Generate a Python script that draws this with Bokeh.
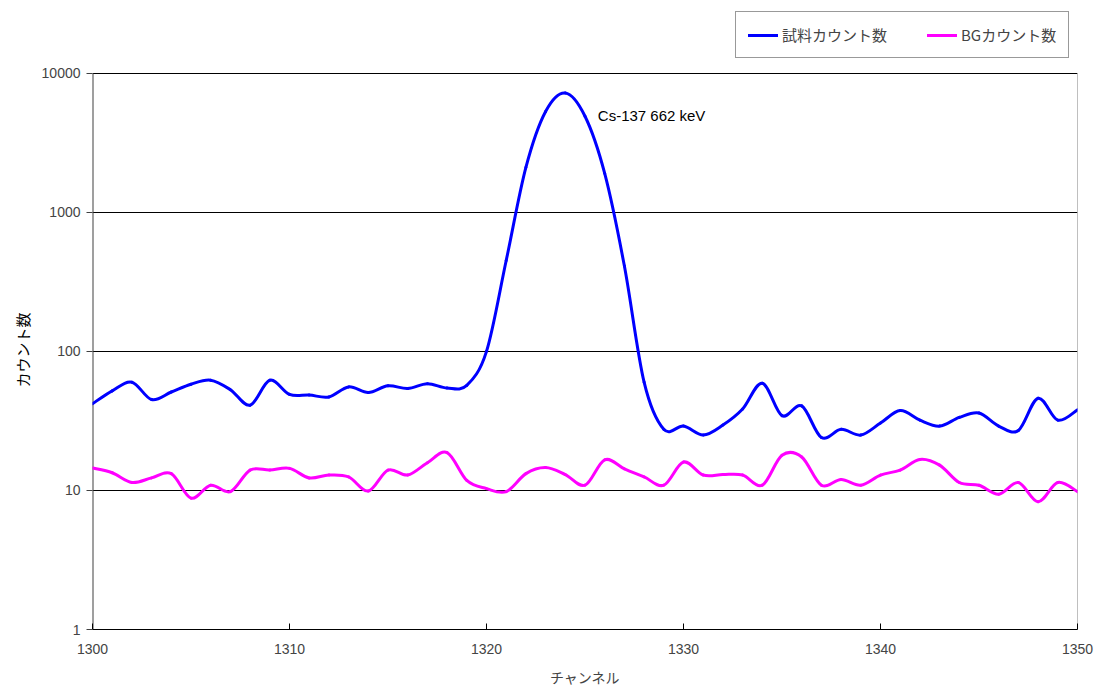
import numpy as np
from bokeh.plotting import figure
from bokeh.models import (FixedTicker, CustomJSTickFormatter, Legend, LegendItem, Label, Title)
from bokeh.embed import file_html
from bokeh.resources import INLINE

channels = list(range(1300, 1351))
sample_counts = [42, 52, 60, 45, 51, 58, 62, 53, 41, 62,
                 49, 48.5, 47, 55.5, 50.5, 56.5, 54, 58.5, 54.5, 57,
                 100, 450, 2100, 5300, 7200, 4900, 1900, 410, 60, 27.5,
                 29, 25, 29.5, 38.5, 59, 34.5, 40.5, 24, 27.5, 25,
                 30.5, 37.5, 32, 29, 33.5, 36, 29, 27, 46, 32,
                 38]
bg_counts = [14.5, 13.4, 11.4, 12.3, 13.2, 8.8, 10.9, 9.8, 14.0, 14.0,
             14.4, 12.3, 12.9, 12.5, 9.9, 14.0, 12.9, 15.8, 18.7, 11.8,
             10.3, 9.8, 13.2, 14.6, 13.0, 10.9, 16.6, 14.3, 12.5, 10.9,
             16.0, 12.9, 13.0, 12.9, 10.9, 17.9, 17.4, 10.9, 12.0, 10.9,
             12.9, 14.0, 16.7, 15.2, 11.4, 10.9, 9.4, 11.4, 8.3, 11.4,
             9.8]
y_ticks = [1, 10, 100, 1000, 10000]
x_ticks = [1300, 1310, 1320, 1330, 1340, 1350]
series_names = ["試料カウント数", "BGカウント数"]
y_title = "カウント数"
x_title = "チャンネル"
annotation_text = "Cs-137  662 keV"

JP = "Noto Sans CJK JP"
LAT = "Liberation Sans"

# layout: the frame reaches the top of the page so that the legend above the
# 10000 line stays inside it; 559 px hold the four decades 1..10000
PLOT_TOP_PX = 73
DECADE_PX = 559 / 4.0
y_top = 10 ** (4 + PLOT_TOP_PX / DECADE_PX)


def smooth_segments(xs, ys):
    x = np.asarray(xs, dtype=float)
    ly = np.log10(np.asarray(ys, dtype=float))
    n = len(x)
    d = dict(x0=[], y0=[], x1=[], y1=[], cx0=[], cy0=[], cx1=[], cy1=[])
    for i in range(n - 1):
        i0 = max(i - 1, 0)
        i3 = min(i + 2, n - 1)
        c1x = x[i] + (x[i + 1] - x[i0]) / 6.0
        c1y = ly[i] + (ly[i + 1] - ly[i0]) / 6.0
        c2x = x[i + 1] - (x[i3] - x[i]) / 6.0
        c2y = ly[i + 1] - (ly[i3] - ly[i]) / 6.0
        d["x0"].append(x[i]); d["y0"].append(10 ** ly[i])
        d["x1"].append(x[i + 1]); d["y1"].append(10 ** ly[i + 1])
        d["cx0"].append(c1x); d["cy0"].append(10 ** c1y)
        d["cx1"].append(c2x); d["cy1"].append(10 ** c2y)
    return d


p = figure(width=1098, height=689, output_backend="svg", toolbar_location=None,
           y_axis_type="log", x_range=(x_ticks[0], x_ticks[-1]),
           y_range=(y_ticks[0], y_top),
           min_border_left=92, min_border_right=21, min_border_bottom=57,
           min_border_top=0)
p.background_fill_color = "white"
p.border_fill_color = "white"
p.outline_line_color = None

p.xgrid.visible = False
p.ygrid.grid_line_color = "black"
p.ygrid.grid_line_width = 1
p.ygrid.ticker = FixedTicker(ticks=y_ticks)

p.yaxis.ticker = FixedTicker(ticks=y_ticks, minor_ticks=[])
p.yaxis.formatter = CustomJSTickFormatter(code="return tick.toFixed(0);")
p.yaxis.major_tick_out = 6
p.yaxis.major_tick_in = 0
p.yaxis.minor_tick_out = 0
p.yaxis.minor_tick_in = 0
p.yaxis.axis_line_color = None
p.yaxis.major_tick_line_color = "#404040"
p.yaxis.major_label_text_font = LAT
p.yaxis.major_label_text_font_size = "14px"
p.yaxis.major_label_standoff = 6

p.xaxis.ticker = FixedTicker(ticks=x_ticks, minor_ticks=[])
p.xaxis.major_tick_out = 0
p.xaxis.major_tick_in = 6
p.xaxis.minor_tick_out = 0
p.xaxis.minor_tick_in = 0
p.xaxis.axis_line_color = "black"
p.xaxis.axis_line_width = 1
p.xaxis.major_label_text_font = LAT
p.xaxis.major_label_text_font_size = "14px"
p.xaxis.major_label_standoff = 14
p.xaxis.axis_label = x_title
p.xaxis.axis_label_text_font = JP
p.xaxis.axis_label_text_font_style = "normal"
p.xaxis.axis_label_text_font_size = "14px"
p.xaxis.axis_label_standoff = 10

# y axis title, centred on the 1..10000 span (not on the taller frame)
yt = Title(text=y_title, align="left", offset=242, text_font=JP,
           text_font_size="15px", text_font_style="normal", text_color="black",
           standoff=11)
p.add_layout(yt, "left")

# left axis line and right plot border, spanning 1..10000 only
p.segment(x0=[x_ticks[0]], y0=[y_ticks[0]], x1=[x_ticks[0]], y1=[y_ticks[-1]],
          line_color="#404040", line_width=2)
p.segment(x0=[x_ticks[-1]], y0=[y_ticks[0]], x1=[x_ticks[-1]], y1=[y_ticks[-1]],
          line_color="#808080", line_width=1)

colors = ["#0000FF", "#FF00FF"]
items = []
for name, vals, col in zip(series_names, [sample_counts, bg_counts], colors):
    segs = smooth_segments(channels, vals)
    r = p.bezier(x0="x0", y0="y0", x1="x1", y1="y1", cx0="cx0", cy0="cy0",
                 cx1="cx1", cy1="cy1", source=segs, line_color=col, line_width=3,
                 line_cap="round")
    items.append(LegendItem(label=name, renderers=[r]))

lab = Label(x=1325.65, y=5000, text=annotation_text, text_font=LAT,
            text_font_size="15px", text_baseline="middle", text_color="black")
p.add_layout(lab)

legend = Legend(items=items, orientation="horizontal", location=(643, 571),
                label_text_font=JP, label_text_font_size="15px",
                glyph_width=30, glyph_height=18, label_standoff=4, spacing=40,
                padding=12, margin=0, border_line_color="#333333",
                border_line_width=1, background_fill_color="white")
p.add_layout(legend)

open("out.html", "w").write(file_html(p, INLINE))
